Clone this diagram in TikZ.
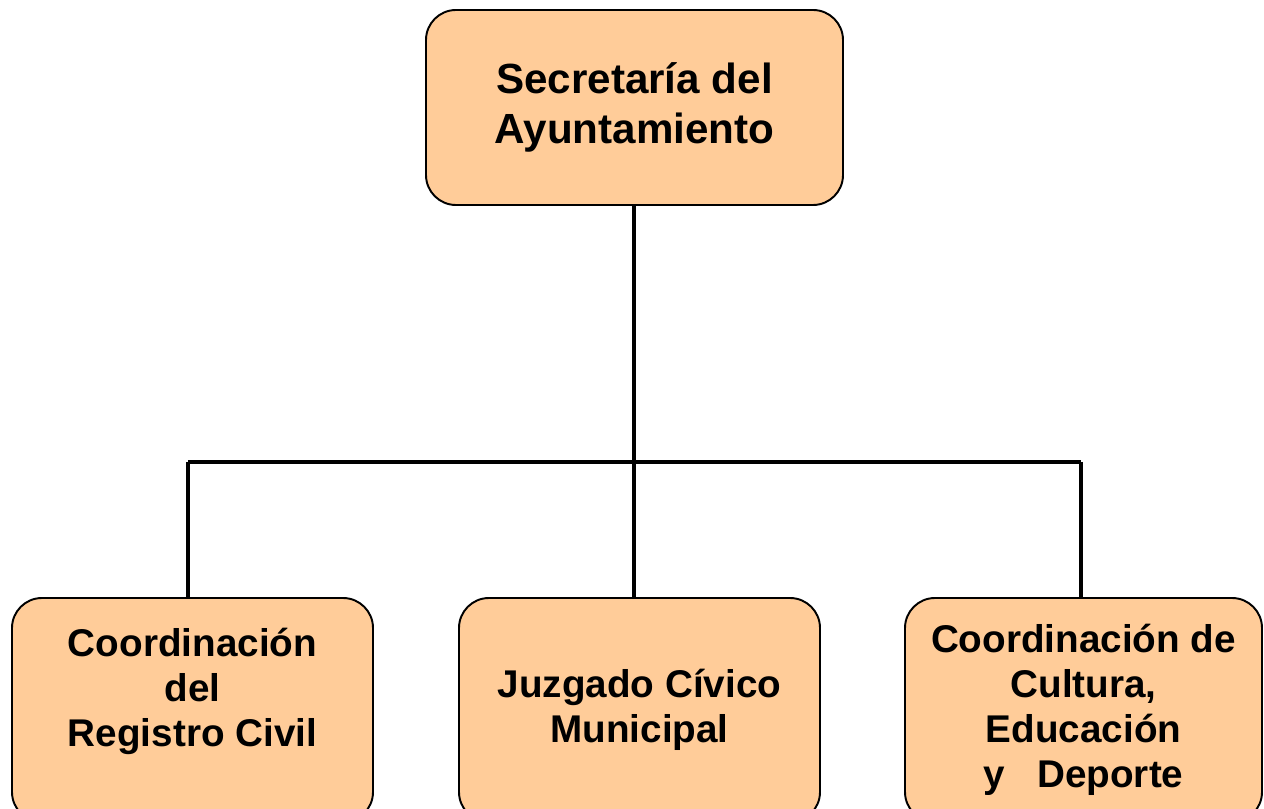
\documentclass[tikz,border=0pt]{standalone}
\usepackage{fontspec}
\setmainfont{Liberation Sans}
\usepackage{tikz}
\definecolor{peach}{HTML}{FFCC99}

\begin{document}
\begin{tikzpicture}[
    unit/.style = {draw, line width=1.1pt, fill=peach, rounded corners=0.6cm,
        align=center, inner sep=0mm, font=\bfseries\fontsize{22}{25.6}\selectfont,
        minimum width=7.22cm, minimum height=4.48cm},
    head/.style = {unit, font=\bfseries\fontsize{24}{28.5}\selectfont,
        minimum width=8.34cm, minimum height=3.9cm},
    link/.style = {line width=2.3pt}
  ]
  \path[use as bounding box, clip] (0,0) rectangle (25.28,16.16);

  % boxes
  \node[head] (SEC) at (12.69,14.01) {Secretaría del\\Ayuntamiento};
  \node[unit] (REG) at (3.85,1.96) {Coordinación\\del\\Registro Civil\\ };
  \node[unit] (JUZ) at (12.79,1.96) {Juzgado Cívico\\Municipal};
  \node[unit, minimum width=7.14cm] (CUL) at (21.67,1.96)
    {Coordinación de\\Cultura,\\Educación\\y\ \ \ Deporte};

  % bus
  \coordinate (jl) at (3.76,6.92);
  \coordinate (jm) at (12.68,6.92);
  \coordinate (jr) at (21.62,6.92);

  \draw[link] (SEC.south -| jm) -- (jm);
  \draw[link] (jl) -- (jr);
  \draw[link] (jl) -- (jl |- REG.north);
  \draw[link] (jm) -- (jm |- JUZ.north);
  \draw[link] (jr) -- (jr |- CUL.north);
\end{tikzpicture}
\end{document}
